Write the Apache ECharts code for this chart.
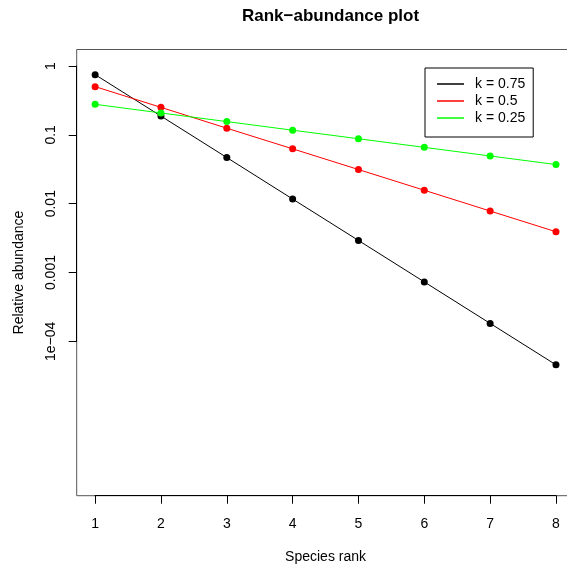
<!DOCTYPE html>
<html>
<head>
<meta charset="utf-8">
<script src="https://cdn.jsdelivr.net/npm/echarts@6/dist/echarts.min.js"></script>
<style>
html, body { margin: 0; padding: 0; background: #fff; }
#main { width: 567px; height: 567px; }
</style>
</head>
<body>
<div id="main"></div>
<script>
var myChart = echarts.init(document.getElementById('main'));

var ranks = [1, 2, 3, 4, 5, 6, 7, 8];
var seriesNames = ['k = 0.75', 'k = 0.5', 'k = 0.25'];
var k075 = [0.75, 0.1875, 0.0469, 0.0117, 0.00293, 0.000732, 0.000183, 0.0000458];
var k050 = [0.502, 0.251, 0.125, 0.0627, 0.0314, 0.0157, 0.00784, 0.00392];
var k025 = [0.278, 0.208, 0.156, 0.117, 0.0879, 0.0659, 0.0494, 0.0371];
var yTickLabels = {'1': '1', '0.1': '0.1', '0.01': '0.01', '0.001': '0.001', '0.0001': '1e\u221204'};

var font = "'Liberation Sans', Arial, sans-serif";

function pairs(vals) {
    var res = [];
    for (var i = 0; i < ranks.length; i++) {
        res.push([ranks[i], vals[i]]);
    }
    return res;
}

function makeSeries(name, vals, color) {
    return {
        name: name,
        type: 'line',
        xAxisIndex: 0,
        yAxisIndex: 0,
        data: pairs(vals),
        symbol: 'circle',
        symbolSize: 7,
        lineStyle: { color: color, width: 1 },
        itemStyle: { color: color },
        emphasis: { disabled: true },
        animation: false
    };
}

option = {
    backgroundColor: '#fff',
    textStyle: { fontFamily: font },
    title: {
        text: 'Rank\u2212abundance plot',
        left: 325.5,
        textAlign: 'center',
        top: 3,
        textStyle: { fontFamily: font, fontSize: 17, fontWeight: 'bold', color: '#000' }
    },
    legend: {
        orient: 'vertical',
        left: 425,
        top: 68,
        data: seriesNames,
        icon: 'rect',
        itemWidth: 27,
        itemHeight: 1.5,
        itemGap: 1,
        padding: [8, 8, 11, 12],
        borderColor: '#000',
        borderWidth: 1,
        selectedMode: false,
        textStyle: { fontFamily: font, fontSize: 14, lineHeight: 16, color: '#000', padding: [0, 0, 0, 6] }
    },
    grid: [{
        // plot region (box), partly off the right edge
        left: 76.7,
        top: 49.5,
        width: 497.7,
        height: 446.2,
        outerBoundsMode: 'none',
        show: true,
        borderColor: '#555',
        borderWidth: 1,
        backgroundColor: 'transparent'
    }, {
        // axis span from first to last tick
        left: 95.1,
        top: 66.0,
        width: 460.9,
        height: 275.4,
        outerBoundsMode: 'none',
        show: false
    }],
    xAxis: [{
        gridIndex: 0,
        type: 'value',
        min: 0.72,
        max: 8.28,
        name: 'Species rank',
        nameLocation: 'middle',
        nameGap: 54,
        nameTextStyle: { fontFamily: font, fontSize: 14, color: '#000' },
        axisLine: { show: false },
        axisTick: { show: false },
        axisLabel: { show: false },
        splitLine: { show: false }
    }, {
        gridIndex: 1,
        type: 'value',
        min: 1,
        max: 8,
        interval: 1,
        position: 'bottom',
        offset: 154.3,
        axisLine: { show: true, lineStyle: { color: '#000', width: 1 } },
        axisTick: { show: true, length: 8, lineStyle: { color: '#000' } },
        axisLabel: { fontFamily: font, fontSize: 14, color: '#000', margin: 21 },
        splitLine: { show: false }
    }],
    yAxis: [{
        gridIndex: 0,
        type: 'log',
        min: Math.pow(10, -6.24),
        max: Math.pow(10, 0.24),
        name: 'Relative abundance',
        nameLocation: 'middle',
        nameGap: 51,
        nameTextStyle: { fontFamily: font, fontSize: 14, color: '#000' },
        axisLine: { show: false },
        axisTick: { show: false },
        axisLabel: { show: false },
        splitLine: { show: false }
    }, {
        gridIndex: 1,
        type: 'log',
        min: 0.0001,
        max: 1,
        position: 'left',
        offset: 18.4,
        axisLine: { show: true, lineStyle: { color: '#000', width: 1 } },
        axisTick: { show: true, length: 8, lineStyle: { color: '#000' } },
        axisLabel: {
            fontFamily: font, fontSize: 14, color: '#000', margin: 19, rotate: 90,
            formatter: function (v) {
                var key = String(+v.toPrecision(6));
                return yTickLabels[key] !== undefined ? yTickLabels[key] : '';
            }
        },
        splitLine: { show: false }
    }],
    series: [
        makeSeries(seriesNames[0], k075, '#000000'),
        makeSeries(seriesNames[1], k050, '#FF0000'),
        makeSeries(seriesNames[2], k025, '#00FF00')
    ]
};

myChart.setOption(option);
</script>
</body>
</html>
